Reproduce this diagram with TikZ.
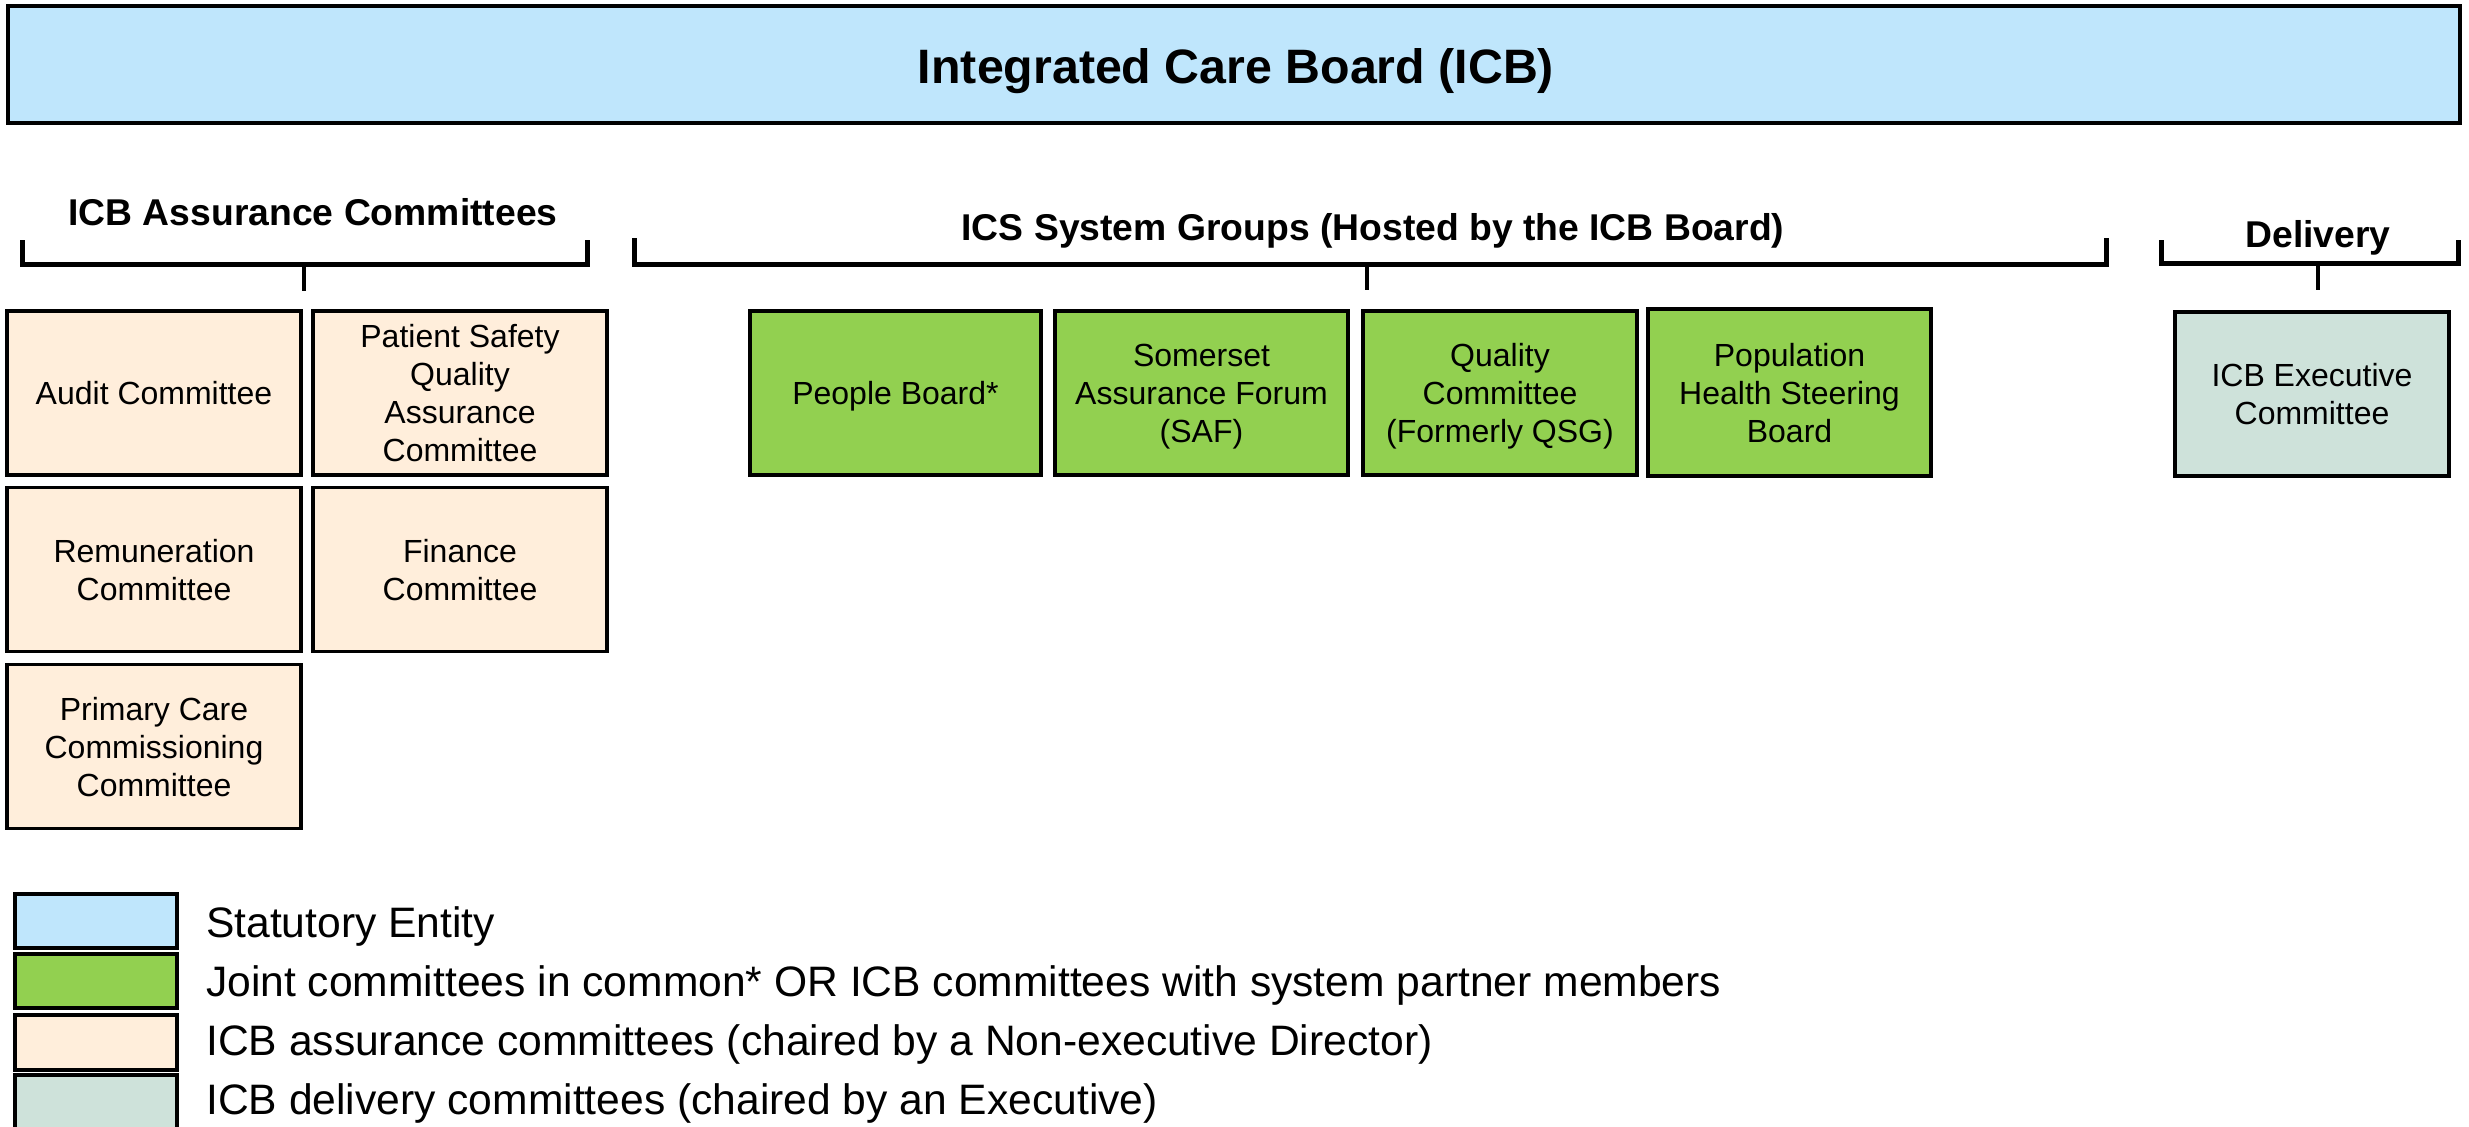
\documentclass[tikz,border=0pt]{standalone}
\usepackage{fontspec}
\setmainfont{Liberation Sans}
\definecolor{icbblue}{HTML}{BFE6FC}
\definecolor{assure}{HTML}{FFEEDB}
\definecolor{jointgreen}{HTML}{92D050}
\definecolor{delivgrey}{HTML}{CEE2DA}
\tikzset{
  box/.style={draw=black, line width=3.5pt, inner sep=0pt, align=center,
    text depth=0pt, font=\fontsize{32}{38}\selectfont},
  abox/.style={box, fill=assure, minimum width=294pt, minimum height=164pt},
  gbox/.style={box, fill=jointgreen, minimum height=164pt},
  hdr/.style={font=\bfseries\fontsize{37.3}{42}\selectfont, anchor=base, inner sep=0pt},
  brace/.style={line width=5pt, line join=miter},
  stem/.style={line width=4pt},
  swatch/.style={draw=black, line width=3.5pt},
  legtext/.style={font=\fontsize{42.6}{48}\selectfont, anchor=base west, inner sep=0pt}
}
\begin{document}
\begin{tikzpicture}[x=1pt,y=-1pt]
\useasboundingbox (0,0) rectangle (2469,1127);
% top board
\node[box, fill=icbblue, minimum width=2452pt, minimum height=117pt] (icb) at (1234,64.5) {};
\node[font=\bfseries\fontsize{48.3}{54}\selectfont, anchor=base, inner sep=0pt] (title) at (1236,83) {Integrated Care Board (ICB)};
% headers
\node[hdr] (h1) at (313,225) {ICB Assurance Committees};
\node[hdr] (h2) at (1373,240) {ICS System Groups (Hosted by the ICB Board)};
\node[hdr] (h3) at (2318,247) {Delivery};
% brackets
\coordinate (b1l) at (22,240); \coordinate (b1r) at (587,240);
\coordinate (b1s) at (304,264.5); \coordinate (b1e) at (304,291);
\draw[brace] (b1l) -- (22,264.5) -- (587,264.5) -- (b1r);
\draw[stem] (b1s) -- (b1e);
\coordinate (b2l) at (634,238); \coordinate (b2r) at (2106,238);
\coordinate (b2s) at (1367,264); \coordinate (b2e) at (1367,290);
\draw[brace] (b2l) -- (634,264) -- (2106,264) -- (b2r);
\draw[stem] (b2s) -- (b2e);
\coordinate (b3l) at (2161,240); \coordinate (b3r) at (2458,240);
\coordinate (b3s) at (2318,263.5); \coordinate (b3e) at (2318,290);
\draw[brace] (b3l) -- (2161,263.5) -- (2458,263.5) -- (b3r);
\draw[stem] (b3s) -- (b3e);
% assurance committees
\node[abox] (audit) at (154,393) {Audit Committee};
\node[abox] (psqa) at (460,393) {Patient Safety\\Quality\\Assurance\\Committee};
\node[abox] (remun) at (154,569.5) {Remuneration\\Committee};
\node[abox] (fin) at (460,569.5) {Finance\\Committee};
\node[abox] (pcc) at (154,746.5) {Primary Care\\Commissioning\\Committee};
% system groups
\node[gbox, minimum width=291pt] (people) at (895.5,393) {People Board*};
\node[gbox, minimum width=293pt] (saf) at (1201.5,393) {Somerset\\Assurance Forum\\(SAF)};
\node[gbox, minimum width=274pt] (qual) at (1500,393) {Quality\\Committee\\(Formerly QSG)};
\node[gbox, minimum width=283pt, minimum height=167pt] (pop) at (1789.5,392.5) {Population\\Health Steering\\Board};
% delivery
\node[box, fill=delivgrey, minimum width=274pt, minimum height=164pt] (exec) at (2312,394) {ICB Executive\\Committee};
% legend
\draw[swatch, fill=icbblue] (15,894) rectangle (177,948);
\draw[swatch, fill=jointgreen] (15,954) rectangle (177,1008);
\draw[swatch, fill=assure] (15,1015) rectangle (177,1070);
\draw[swatch, fill=delivgrey] (15,1075) rectangle (177,1140);
\node[legtext] (l1) at (206,937) {Statutory Entity};
\node[legtext] (l2) at (206,996) {Joint committees in common* OR ICB committees with system partner members};
\node[legtext] (l3) at (206,1055) {ICB assurance committees (chaired by a Non-executive Director)};
\node[legtext] (l4) at (206,1114) {ICB delivery committees (chaired by an Executive)};
\end{tikzpicture}
\end{document}
